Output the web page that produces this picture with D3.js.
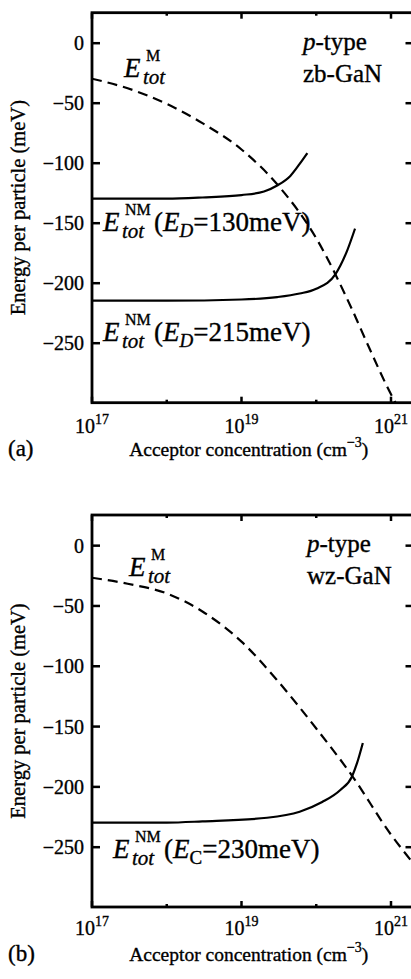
<!DOCTYPE html>
<html>
<head>
<meta charset="utf-8">
<script src="https://cdn.jsdelivr.net/npm/d3@7"></script>
<style>
  body { margin: 0; background: #fff; }
  text { stroke: #000; stroke-width: 0.35px; }
</style>
</head>
<body>
<div id="chart"></div>
<script>
// panel (a): p-type zb-GaN
var concA_M = [1e17, 3e17, 1e18, 3e18, 1e19, 3e19, 1e20, 3e20, 5e20, 1e21, 1.15e21];
var energyA_M = [-30, -38, -51, -67, -89, -118, -163, -222, -253, -293, -300];
var concA_130 = [1e17, 1e18, 3e18, 1e19, 2e19, 3e19, 4.5e19, 6e19, 7.6e19];
var energyA_130 = [-130, -130, -129, -127, -124, -119, -111, -101, -92];
var concA_215 = [1e17, 1e18, 1e19, 3e19, 6e19, 1e20, 1.8e20, 2.6e20, 3.3e20];
var energyA_215 = [-215, -215, -214, -212, -209, -205, -193, -173, -155];

// panel (b): p-type wz-GaN
var concB_M = [1e17, 3e17, 1e18, 3e18, 1e19, 3e19, 1e20, 3e20, 1e21, 2e21];
var energyB_M = [-27, -32, -40, -55, -80, -112, -152, -191, -240, -264];
var concB_230 = [1e17, 1e18, 3e18, 2.2e19, 6e19, 1.2e20, 2.1e20, 3e20, 3.5e20, 4.2e20];
var energyB_230 = [-230, -230, -229, -226, -221, -213, -203, -192, -181, -164];

var yTicks = [0, -50, -100, -150, -200, -250];
var xTicks = [1e17, 1e18, 1e19, 1e20, 1e21];
var xLabelTicks = [1e17, 1e19, 1e21];
var xDomain = [1e17, 2e21];
var yDomain = [-300, 25];

var width = 411, height = 979;
var FONT = "'Liberation Serif', 'Times New Roman', Times, serif";

var svg = d3.select("#chart").append("svg")
    .attr("width", width)
    .attr("height", height)
    .attr("font-family", FONT)
    .style("display", "block");

drawPanel({
  top: 12.7, bottom: 402.7, tag: "(a)",
  xLabelY: 433, titleY: 456,
  dashed: d3.zip(concA_M, energyA_M),
  solids: [d3.zip(concA_130, energyA_130), d3.zip(concA_215, energyA_215)],
  material: "zb-GaN", matX: 303, matY: 50,
  mLabel: [124, 77],
  nmLabels: [
    { x: 103, y: 231, tail: [["(", "r"], ["E", "i"], ["D", "si"], ["=130meV)", "r"]] },
    { x: 103, y: 341, tail: [["(", "r"], ["E", "i"], ["D", "si"], ["=215meV)", "r"]] }
  ]
});

drawPanel({
  top: 515, bottom: 907, tag: "(b)",
  xLabelY: 935, titleY: 961,
  dashed: d3.zip(concB_M, energyB_M),
  solids: [d3.zip(concB_230, energyB_230)],
  material: "wz-GaN", matX: 307, matY: 552,
  mLabel: [129, 576],
  nmLabels: [
    { x: 113, y: 858, tail: [["(", "r"], ["E", "i"], ["C", "sr"], ["=230meV)", "r"]] }
  ]
});

function drawPanel(p) {
  var left = 92, right = 413.5;

  var x = d3.scaleLog().domain(xDomain).range([left, right]);
  var y = d3.scaleLinear().domain(yDomain).range([p.bottom, p.top]);

  var g = svg.append("g").attr("font-family", FONT);
  var clipId = "clip" + p.tag.replace(/\W/g, "");
  g.append("clipPath").attr("id", clipId)
    .append("rect")
      .attr("x", left).attr("y", p.top)
      .attr("width", right - left).attr("height", p.bottom - p.top);

  var line = d3.line()
      .x(function(d) { return x(d[0]); })
      .y(function(d) { return y(d[1]); })
      .curve(d3.curveMonotoneX);

  var curves = g.append("g").attr("clip-path", "url(#" + clipId + ")");
  curves.append("path")
      .datum(p.dashed)
      .attr("d", line)
      .attr("fill", "none")
      .attr("stroke", "#000")
      .attr("stroke-width", 2.2)
      .attr("stroke-dasharray", "10,6");
  curves.selectAll(".solid")
    .data(p.solids)
    .enter().append("path")
      .attr("class", "solid")
      .attr("d", line)
      .attr("fill", "none")
      .attr("stroke", "#000")
      .attr("stroke-width", 2.2);

  // inward ticks on all four sides
  var yAxis = d3.axisLeft(y).tickValues(yTicks).tickSize(-8).tickPadding(8).tickSizeOuter(0);
  var ya = g.append("g").attr("transform", "translate(" + left + ",0)").call(yAxis);
  ya.attr("font-family", FONT).attr("font-size", 20);
  ya.select(".domain").remove();
  ya.selectAll("line").attr("stroke-width", 2.5);
  ya.selectAll("text").attr("fill", "#000").attr("dy", "0.36em");

  var yAxisR = d3.axisRight(y).tickValues(yTicks).tickSize(-8).tickFormat("").tickSizeOuter(0);
  var yr = g.append("g").attr("transform", "translate(" + right + ",0)").call(yAxisR);
  yr.select(".domain").remove();
  yr.selectAll("line").attr("stroke-width", 2.5);

  function tickLen(d) { return Math.round(Math.log10(d)) % 2 === 1 ? 6 : 3; }
  g.selectAll(".xtick-b")
    .data(xTicks)
    .enter().append("line")
      .attr("x1", function(d) { return x(d); })
      .attr("x2", function(d) { return x(d); })
      .attr("y1", p.bottom)
      .attr("y2", function(d) { return p.bottom - tickLen(d); })
      .attr("stroke", "#000").attr("stroke-width", 2.5);
  g.selectAll(".xtick-t")
    .data(xTicks)
    .enter().append("line")
      .attr("x1", function(d) { return x(d); })
      .attr("x2", function(d) { return x(d); })
      .attr("y1", p.top)
      .attr("y2", function(d) { return p.top + tickLen(d); })
      .attr("stroke", "#000").attr("stroke-width", 2.5);

  g.append("rect")
      .attr("x", left).attr("y", p.top)
      .attr("width", right - left).attr("height", p.bottom - p.top)
      .attr("fill", "none").attr("stroke", "#000").attr("stroke-width", 2.8);

  // x tick labels 10^n
  var xl = g.selectAll(".xlab")
    .data(xLabelTicks)
    .enter().append("text")
      .attr("x", function(d) { return x(d); })
      .attr("y", p.xLabelY)
      .attr("text-anchor", "middle")
      .attr("font-size", 20);
  xl.append("tspan").text("10");
  xl.append("tspan").attr("dy", -9).attr("font-size", 14)
      .text(function(d) { return Math.round(Math.log10(d)); });

  // axis titles
  var xt = g.append("text")
      .attr("x", (left + right) / 2 - 4).attr("y", p.titleY)
      .attr("text-anchor", "middle").attr("font-size", 19.5);
  xt.append("tspan").text("Acceptor concentration (cm");
  xt.append("tspan").attr("dy", -9).attr("font-size", 14).text("\u22123");
  xt.append("tspan").attr("dy", 9).text(")");

  g.append("text")
      .attr("x", 8).attr("y", p.titleY)
      .attr("font-size", 23)
      .text(p.tag);

  g.append("text")
      .attr("transform", "translate(25," + (p.top + p.bottom) / 2 + ") rotate(-90)")
      .attr("text-anchor", "middle")
      .attr("font-size", 20.5)
      .text("Energy per particle (meV)");

  // material labels
  var mt = g.append("text").attr("x", p.matX).attr("y", p.matY).attr("font-size", 25);
  mt.append("tspan").attr("font-style", "italic").text("p");
  mt.append("tspan").text("-type");
  g.append("text").attr("x", p.matX).attr("y", p.matY + 32).attr("font-size", 25).text(p.material);

  energyLabel(g, p.mLabel[0], p.mLabel[1], "M", null);
  p.nmLabels.forEach(function(l) { energyLabel(g, l.x, l.y, "NM", l.tail); });
}

// E with stacked subscript "tot" and superscript, then an optional tail
function energyLabel(g, x, y, sup, tail) {
  var lab = g.append("g").attr("transform", "translate(" + x + "," + y + ")");
  lab.append("text").attr("font-style", "italic").attr("font-size", 27).text("E");
  lab.append("text").attr("x", 19).attr("y", 7)
      .attr("font-style", "italic").attr("font-size", 21).text("tot");
  lab.append("text").attr("x", 22).attr("y", -16)
      .attr("font-size", 16).text(sup);
  if (!tail) return;
  var t = lab.append("text").attr("x", 51).attr("font-size", 27);
  var shifted = false;
  tail.forEach(function(part) {
    var ts = t.append("tspan").text(part[0]);
    if (part[1] === "i") ts.attr("font-style", "italic");
    if (part[1] === "si" || part[1] === "sr") {
      ts.attr("dy", 6).attr("font-size", 19);
      if (part[1] === "si") ts.attr("font-style", "italic");
      shifted = true;
    } else if (shifted) {
      ts.attr("dy", -6);
      shifted = false;
    }
  });
}
</script>
</body>
</html>
